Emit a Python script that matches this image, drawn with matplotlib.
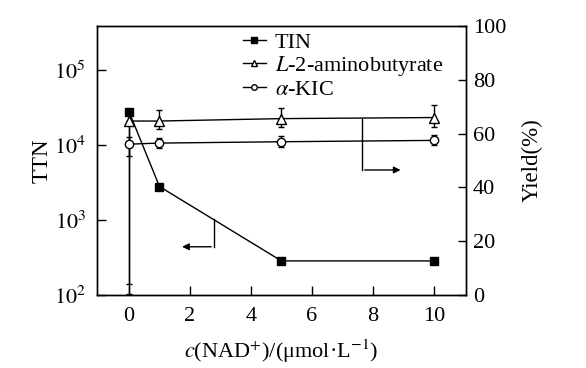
import matplotlib
matplotlib.use('Agg')
import matplotlib.pyplot as plt
from matplotlib.lines import Line2D
from matplotlib.ticker import FixedLocator, FixedFormatter

plt.rcParams['font.family'] = ['Liberation Serif', 'DejaVu Serif']
plt.rcParams['mathtext.fontset'] = 'stix'
plt.rcParams['font.size'] = 16

# data
nad = [0, 1, 5, 10]
ttn = [2.8e4, 2.8e3, 2.85e2, 2.85e2]
ttn_err_lo = [2.8e4 - 103, 0, 0, 0]
ttn_err_hi = [0, 0, 0, 0]

abu = [64.7, 64.7, 65.6, 66.0]        # L-2-aminobutyrate yield (%)
abu_err_lo = [60.5, 3.0, 3.0, 3.5]
abu_err_hi = [0, 4.0, 4.0, 4.5]

kic = [56.1, 56.5, 57.0, 57.5]        # alpha-KIC yield (%)
kic_err_lo = [4.5, 2.0, 1.8, 1.8]
kic_err_hi = [2.5, 2.0, 2.0, 2.0]

labels = ['TIN', '$L$-2-aminobutyrate', '$\\alpha$-KIC']
xticks = [0, 2, 4, 6, 8, 10]
logticks = [1e2, 1e3, 1e4, 1e5]
logticklabels = ['$10^{2}$', '$10^{3}$', '$10^{4}$', '$10^{5}$']
yticks = [0, 20, 40, 60, 80, 100]

fig = plt.figure(figsize=(5.86, 3.68), dpi=100)
ax = fig.add_axes([0.1655, 0.1984, 0.6295, 0.7306])
ax2 = ax.twinx()

ax.errorbar(nad, ttn, yerr=[ttn_err_lo, ttn_err_hi], color='black', lw=1,
            marker='s', ms=6, mfc='black', capsize=2.5, elinewidth=1)
ax2.errorbar(nad, abu, yerr=[abu_err_lo, abu_err_hi], color='black', lw=1,
             marker='^', ms=7, mfc='white', capsize=2.5, elinewidth=1)
ax2.errorbar(nad, kic, yerr=[kic_err_lo, kic_err_hi], color='black', lw=1,
             marker='o', ms=6, mfc='white', capsize=2.5, elinewidth=1)

ax.set_yscale('log')
ax.set_xlim(-1.05, 11.05)
ax.set_ylim(1e2, 3.87e5)
ax2.set_ylim(0, 100)
ax.minorticks_off()
ax.yaxis.set_major_locator(FixedLocator(logticks))
ax.yaxis.set_major_formatter(FixedFormatter(logticklabels))
ax.set_xticks(xticks)
ax2.set_yticks(yticks)

ax.tick_params(axis='x', direction='in', length=6.5, width=1, labelsize=16, pad=9)
ax.tick_params(axis='y', direction='in', length=6.5, width=1, labelsize=16, pad=8)
ax2.tick_params(direction='in', length=6, width=1, labelsize=16, pad=5)
for a in (ax, ax2):
    for s in a.spines.values():
        s.set_linewidth(1)

ax.set_ylabel('TTN', fontsize=16.5, labelpad=1)
ax2.set_ylabel('Yield(%)', fontsize=16.5, labelpad=11)
ax.set_xlabel('$c$(NAD$^{+}$)/(μmol·L$^{-1}$)', fontsize=16, labelpad=8)

# arrow pointing to left axis
ax.plot([2.79, 2.79], [1030, 440], color='black', lw=1)
ax.annotate('', xy=(1.65, 440), xytext=(2.79, 440),
            arrowprops=dict(arrowstyle='-|>', color='black', lw=1, mutation_scale=10))
# arrow pointing to right axis
ax2.plot([7.64, 7.64], [65.5, 46.5], color='black', lw=1)
ax2.annotate('', xy=(9.0, 46.5), xytext=(7.64, 46.5),
             arrowprops=dict(arrowstyle='-|>', color='black', lw=1, mutation_scale=10))

handles = [Line2D([], [], color='black', lw=1, marker='s', ms=4, mfc='black'),
           Line2D([], [], color='black', lw=1, marker='^', ms=4.5, mfc='white'),
           Line2D([], [], color='black', lw=1, marker='o', ms=4, mfc='white')]
fig.legend(handles=handles, labels=labels, loc='upper left', bbox_to_anchor=(0.395, 0.942),
           frameon=False, fontsize=16, handlelength=1.05, handletextpad=0.4,
           labelspacing=0.05, borderpad=0)

fig.savefig('out.png', dpi=100)
